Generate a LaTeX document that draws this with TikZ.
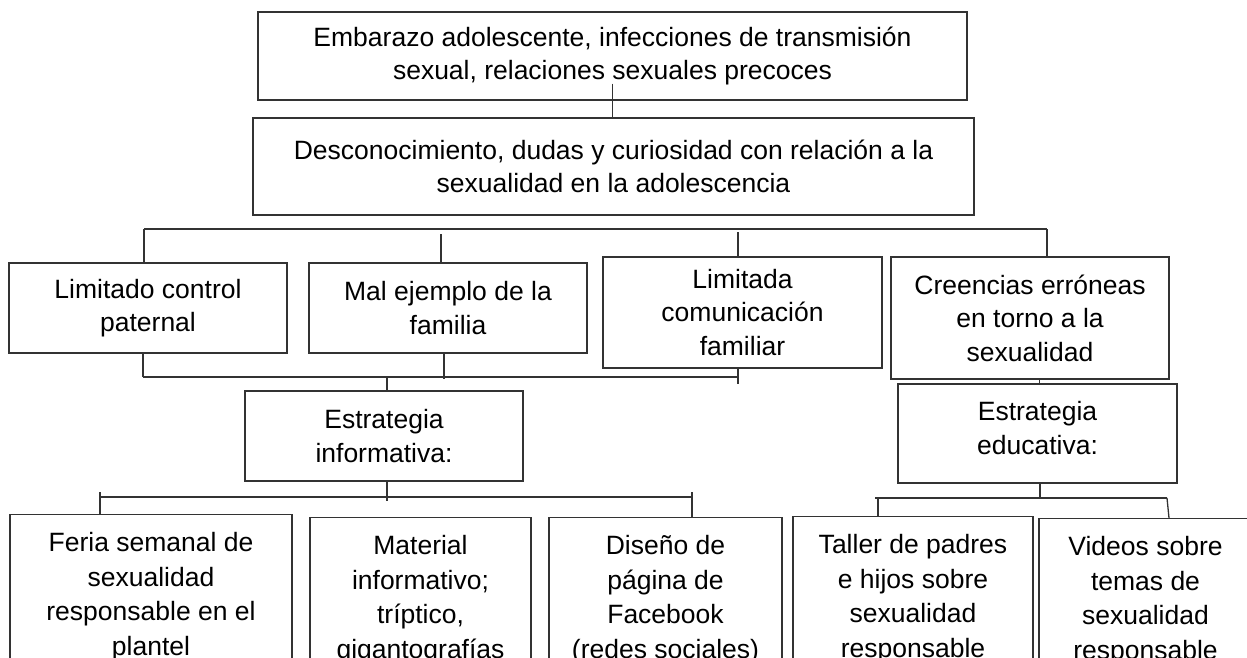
\documentclass[tikz,border=0pt]{standalone}
\usepackage{fontspec}
\setmainfont{Liberation Sans}
\begin{document}
\begin{tikzpicture}[x=1pt,y=-1pt]
\tikzset{
  box/.style={draw=black!80, line width=1.3pt, rectangle, align=center, inner sep=0pt, text=black,
              font=\fontsize{26.5}{33.5}\selectfont},
  lowbox/.style={box, anchor=north, inner ysep=18pt, font=\fontsize{26.5}{34.5}\selectfont},
  conn/.style={draw=black!80, line width=1.3pt}
}
\useasboundingbox (0,0) rectangle (1247,658);
\clip (0,0) rectangle (1247,658);
\fill[white] (0,0) rectangle (1247,658);

% top
\node[box, minimum width=709, minimum height=88] (T) at (612.5,56)
  {Embarazo adolescente, infecciones de transmisión\\sexual, relaciones sexuales precoces};
\node[box, minimum width=721, minimum height=97] (S) at (613.5,166.5)
  {Desconocimiento, dudas y curiosidad con relación a la\\sexualidad en la adolescencia};

% causes
\node[box, minimum width=278, minimum height=90] (A) at (148,308) {Limitado control\\paternal};
\node[box, minimum width=278, minimum height=90] (B) at (448,308) {Mal ejemplo de la\\familia};
\node[box, minimum width=279, minimum height=111] (C) at (742.5,312.5) {Limitada\\comunicación\\familiar};
\node[box, minimum width=278, minimum height=122] (D) at (1030,318) {Creencias erróneas\\en torno a la\\sexualidad};

% strategies
\node[box, minimum width=278, minimum height=90] (E1) at (384,436) {Estrategia\\informativa:};
\node[box, minimum width=279, minimum height=99] (E2) at (1037.5,433.5) {Estrategia\\educativa:\\[-22.5pt]\mbox{}};

% actions
\node[lowbox, minimum width=282] (F) at (151,514) {Feria semanal de\\sexualidad\\responsable en el\\plantel};
\node[lowbox, minimum width=221] (Ma) at (420.5,517) {Material\\informativo;\\tríptico,\\gigantografías};
\node[lowbox, minimum width=233] (Di) at (665.5,517) {Diseño de\\página de\\Facebook\\(redes sociales)};
\node[lowbox, minimum width=240] (Ta) at (913,516) {Taller de padres\\e hijos sobre\\sexualidad\\responsable};
\node[lowbox, minimum width=213] (Vi) at (1145.5,518) {Videos sobre\\temas de\\sexualidad\\responsable};

% connectors
\draw[conn] ([yshift=17pt]T.south) -- (T.south |- S.north);

\coordinate (b1L) at (144,229);
\coordinate (b1R) at (1047,229);
\draw[conn] (b1L) -- (b1R);
\draw[conn] (b1L) -- (b1L |- A.north);
\draw[conn] ([xshift=-7pt]B.north) -- ++(0,-28);
\draw[conn] ([xshift=-4.5pt]C.north) -- ++(0,-24);
\draw[conn] (b1R) -- (b1R |- D.north);

\coordinate (b2L) at (143,377);
\coordinate (b2R) at (738,377);
\draw[conn] (b2L) -- (b2R);
\draw[conn] (b2L) -- (b2L |- A.south);
\draw[conn] ([xshift=-4pt]B.south) -- ++(0,25);
\draw[conn] (C.south -| b2R) -- ++(0,15);
\draw[conn] ([xshift=3pt]E1.north) -- ++(0,-14);
\draw[conn] ([xshift=2pt]E2.north) -- ([xshift=2pt]E2.north |- D.south);

\coordinate (b3L) at (100,497);
\coordinate (b3R) at (692,497);
\draw[conn] (b3L) -- (b3R);
\draw[conn] ([xshift=3pt]E1.south) -- ++(0,19);
\draw[conn] (b3L |- F.north) -- ++(0,-22);
\draw[conn] (b3R |- Di.north) -- ++(0,-25);

\coordinate (b4L) at (875,498);
\coordinate (b4R) at (1167,498);
\draw[conn] (b4L) -- (b4R);
\draw[conn] ([xshift=2.5pt]E2.south) -- ++(0,15);
\draw[conn] ([xshift=3pt]b4L) -- ([xshift=3pt]b4L |- Ta.north);
\draw[conn] (b4R) -- ([xshift=2pt]b4R |- Vi.north);
\end{tikzpicture}
\end{document}
